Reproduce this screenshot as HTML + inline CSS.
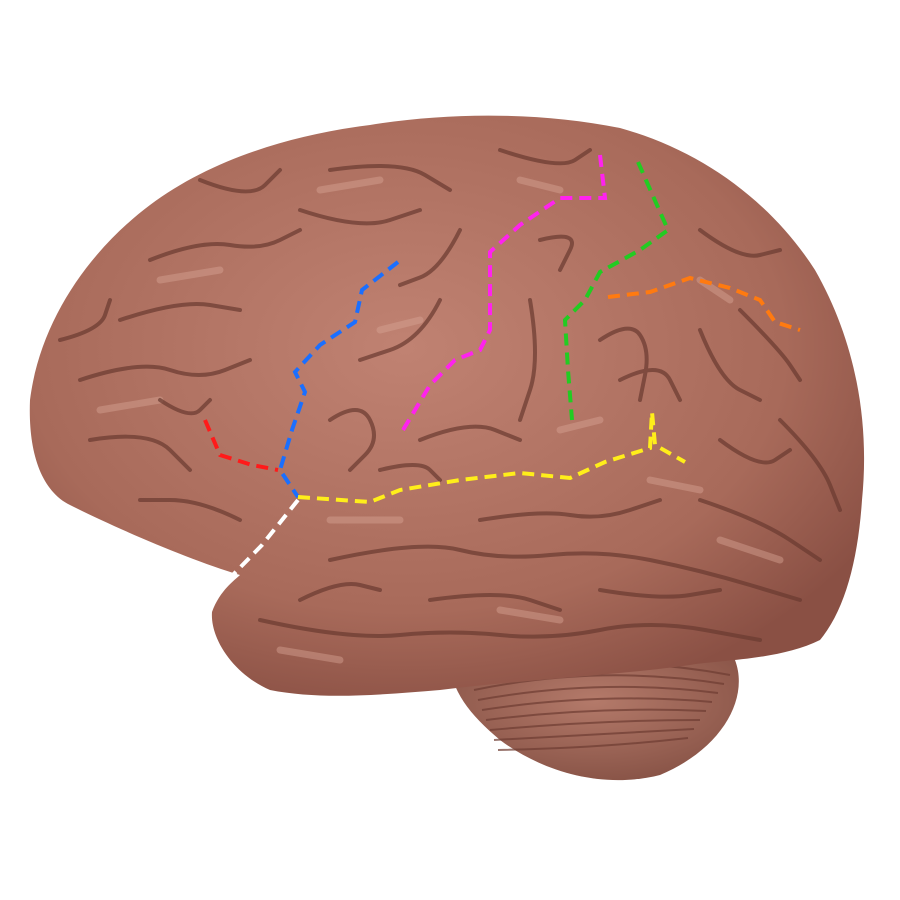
<!DOCTYPE html>
<html><head><meta charset="utf-8"><style>
html,body{margin:0;padding:0;background:#fff;width:900px;height:900px;overflow:hidden}
svg{display:block}
</style></head><body>
<svg id="chart" width="900" height="900" viewBox="0 0 900 900">
<defs>
<radialGradient id="g" cx="0.45" cy="0.4" r="0.65">
<stop offset="0" stop-color="#c08272"/><stop offset="0.7" stop-color="#a86a5a"/><stop offset="1" stop-color="#8a5044"/>
</radialGradient>
<radialGradient id="cb" cx="0.5" cy="0.4" r="0.6">
<stop offset="0" stop-color="#b47a6a"/><stop offset="1" stop-color="#8a5548"/>
</radialGradient>
</defs>
<path fill="url(#cb)" d="M450,660 C520,650 680,640 735,660 C750,700 720,750 660,775 C600,790 540,770 500,740 C470,715 450,690 450,660 Z"/>
<g id="cbl" stroke="#6e3c32" stroke-width="2" fill="none" opacity="0.7"></g>
<path fill="url(#g)" d="M30,400 C40,320 90,250 150,205 C210,160 290,135 370,125 C450,112 540,112 620,128 C700,150 770,200 815,270 C855,340 870,420 862,500 C858,560 845,610 820,640 C780,660 720,660 690,665 C620,675 520,680 440,690 C380,695 320,700 270,690 C235,675 210,640 212,612 C220,590 235,580 240,575 C190,560 120,530 70,505 C40,490 28,450 30,400 Z"/>
<g id="hl" stroke="#d8a494" stroke-width="7" fill="none" stroke-linecap="round" opacity="0.45"></g>
<g id="sulci" stroke="#6a3a30" stroke-width="4" fill="none" stroke-linecap="round" stroke-linejoin="round" opacity="0.7"></g>
<g id="lines" fill="none" stroke-width="4" stroke-dasharray="12 7"></g>
</svg>
<script>
const blueLine=[[398,262],[362,290],[355,322],[320,345],[295,372],[305,392],[292,430],[280,470],[298,497]];
const redLine=[[205,420],[220,455],[252,465],[278,470]];
const yellowLine=[[298,497],[370,502],[400,490],[460,480],[520,473],[570,478],[605,462],[650,448],[652,412],[655,445],[685,462]];
const whiteLine=[[298,500],[262,545],[228,580]];
const magentaLine=[[600,155],[605,198],[560,198],[520,225],[490,252],[490,330],[480,350],[455,360],[430,385],[400,435]];
const greenLine=[[638,162],[668,230],[640,250],[600,272],[585,300],[565,320],[568,370],[572,420]];
const orangeLine=[[608,297],[650,292],[690,278],[730,288],[760,300],[775,322],[800,330]];
const lineColors=["#1a6fff","#ff1a1a","#ffee1a","#ffffff","#ff22ee","#22cc22","#ff7a10"];
const lineNames=["blue-sulcus","red-sulcus","yellow-sulcus","white-sulcus","magenta-sulcus","green-sulcus","orange-sulcus"];
const allLines=[blueLine,redLine,yellowLine,whiteLine,magentaLine,greenLine,orangeLine];
const sulci=[
[[150,260],[200,240],[260,250],[300,230]],[[120,320],[180,300],[240,310]],[[80,380],[140,360],[200,380],[250,360]],
[[90,440],[150,430],[190,470]],[[330,170],[400,160],[450,190]],[[300,210],[360,230],[420,210]],
[[500,150],[560,170],[590,150]],[[440,300],[420,340],[360,360]],[[530,300],[540,360],[520,420]],
[[700,230],[740,260],[780,250]],[[700,330],[720,380],[760,400]],[[780,420],[820,460],[840,510]],
[[700,500],[760,520],[820,560]],[[330,560],[420,540],[500,560],[600,550],[700,570],[800,600]],
[[260,620],[350,640],[450,630],[550,640],[650,620],[760,640]],[[420,440],[470,420],[520,440]],
[[240,520],[200,500],[140,500]],[[620,380],[660,360],[680,400]],
[[60,340],[100,330],[110,300]],[[200,180],[250,200],[280,170]],[[460,230],[440,270],[400,285]],
[[330,420],[360,400],[380,440],[350,470]],[[600,340],[630,320],[650,350],[640,400]],
[[740,310],[780,350],[800,380]],[[720,440],[760,470],[790,450]],[[430,600],[500,590],[560,610]],
[[600,590],[660,600],[720,590]],[[300,600],[340,580],[380,590]],[[480,520],[540,510],[600,520],[660,500]],
[[160,400],[190,420],[210,400]],[[540,240],[580,230],[560,270]],[[380,470],[420,460],[440,480]]
];
const highlights=[
[[160,280],[220,270]],[[320,190],[380,180]],[[100,410],[160,400]],[[520,180],[560,190]],
[[560,430],[600,420]],[[330,520],[400,520]],[[500,610],[560,620]],[[700,280],[730,300]],
[[380,330],[420,320]],[[650,480],[700,490]],[[280,650],[340,660]],[[720,540],[780,560]]
];
const NS="http://www.w3.org/2000/svg";
function pathD(p){
  if(p.length<3)return "M"+p.map(q=>q[0]+","+q[1]).join(" L");
  let d="M"+p[0][0]+","+p[0][1];
  for(let i=1;i<p.length-1;i++){const mx=(p[i][0]+p[i+1][0])/2,my=(p[i][1]+p[i+1][1])/2;d+=` Q${p[i][0]},${p[i][1]} ${mx},${my}`;}
  const l=p[p.length-1];d+=` L${l[0]},${l[1]}`;return d;}
function lineD(p){return "M"+p.map(q=>q[0]+","+q[1]).join(" L");}
const hg=document.getElementById("hl");
highlights.forEach(s=>{const e=document.createElementNS(NS,"path");


e.setAttribute("d",pathD(s));hg.appendChild(e);});
const sg=document.getElementById("sulci");
sulci.forEach(s=>{const e=document.createElementNS(NS,"path");


e.setAttribute("d",pathD(s));sg.appendChild(e);});
const cg=document.getElementById("cbl");
for(let i=0;i<8;i++){const e=document.createElementNS(NS,"path");


e.setAttribute("d",`M${470+i*4},${680+i*10} Q600,${650+i*14} ${730-i*6},${675+i*9}`);cg.appendChild(e);}
const lg=document.getElementById("lines");
allLines.forEach((l,i)=>{const e=document.createElementNS(NS,"path");


e.setAttribute("d",lineD(l));e.setAttribute("stroke",lineColors[i]);lg.appendChild(e);});
</script>
</body></html>
